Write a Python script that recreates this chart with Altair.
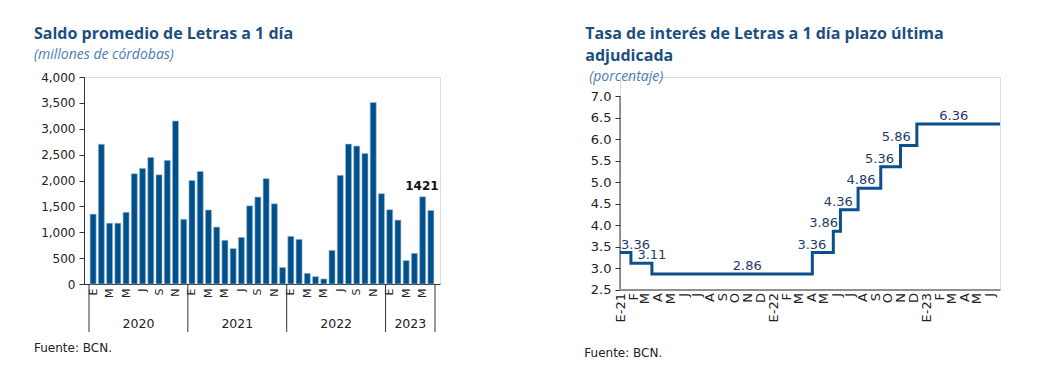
import altair as alt
import pandas as pd

# ---------------- Left chart data ----------------
years = ["2020", "2021", "2022", "2023"]
months_per_year = [12, 12, 12, 6]
month_letters = ["E", "F", "M", "A", "M", "J", "J", "A", "S", "O", "N", "D"]
saldo = [1350, 2700, 1175, 1175, 1385, 2130, 2235, 2445, 2110, 2390, 3150, 1250,
         2000, 2175, 1430, 1100, 845, 685, 900, 1510, 1680, 2035, 1550, 320,
         920, 862, 205, 142, 98, 650, 2100, 2703, 2665, 2522, 3505, 1745,
         1435, 1235, 452, 592, 1685, 1421]
highlight_label = "1421"

# ---------------- Right chart data ----------------
rate_dates = ["2021/01/01", "2021/01/27", "2021/03/18", "2022/04/04", "2022/05/24",
              "2022/06/10", "2022/07/22", "2022/09/14", "2022/10/31", "2022/12/09",
              "2023/06/25"]
rate_values = [3.36, 3.11, 2.86, 3.36, 3.86, 4.36, 4.86, 5.36, 5.86, 6.36, 6.36]
label_dates = ["2021/02/07", "2021/03/18", "2021/10/31", "2022/04/03", "2022/05/01",
               "2022/06/05", "2022/07/29", "2022/09/11", "2022/10/21", "2023/03/07"]
label_values = [3.36, 3.11, 2.86, 3.36, 3.86, 4.36, 4.86, 5.36, 5.86, 6.36]
y2_min, y2_max = 2.5, 7.0

BAR = "#00508c"
LINE = "#0b4f8c"
TXT = "#1f3a6e"
AX = "#333333"
TITLE = "#1b4f80"
SUB = "#4a7db5"
TICKFONT = "DejaVu Sans"
TFONT = "Open Sans"


def text_at(txt, x, y, size, color, weight="normal", style="normal", font=TFONT):
    return alt.Chart(pd.DataFrame({"t": [txt]})).mark_text(
        font=font, fontSize=size, fontWeight=weight, fontStyle=style, color=color,
        align="left", baseline="middle").encode(
        x=alt.value(x), y=alt.value(y), text="t:N")


# ---------- Left chart ----------
n = len(saldo)
bars_df = pd.DataFrame({"idx": [i + 0.5 for i in range(n)], "valor": saldo})
bounds = [0]
for m in months_per_year:
    bounds.append(bounds[-1] + m)
year_df = pd.DataFrame({
    "year": years,
    "center": [(bounds[i] + bounds[i + 1]) / 2 for i in range(len(years))],
})
sep_df = pd.DataFrame({"b": bounds})
month_ticks = [i + 0.5 for i in range(n) if i % 2 == 0]
letters_js = "[" + ",".join("'%s'" % m for m in month_letters) + "]"

W1, H1 = 356, 207
xq = alt.X("idx:Q", scale=alt.Scale(domain=[0, n], nice=False, zero=False),
           axis=alt.Axis(values=month_ticks, tickCount=200,
                         labelExpr=letters_js + "[floor(datum.value) % 12]",
                         labelAngle=270, ticks=False, grid=False, title=None,
                         labelFont=TICKFONT, labelFontSize=11, labelColor="#222",
                         domainColor=AX, labelPadding=4, labelOverlap=False))
yvals1 = list(range(0, 4001, 500))
bars = alt.Chart(bars_df).mark_bar(width=6, color=BAR, stroke="#9dbad6", strokeWidth=0.6).encode(
    x=xq,
    y=alt.Y("valor:Q", scale=alt.Scale(domain=[0, 4000]),
            axis=alt.Axis(values=yvals1, tickCount=200, format=",d", title=None, grid=False,
                          labelFont=TICKFONT, labelFontSize=12, labelColor="#222",
                          domainColor=AX, tickColor=AX, tickSize=5, labelPadding=4,
                          labelOverlap=False)),
)
last_df = bars_df.tail(1).assign(lbl=highlight_label)
last_lbl = alt.Chart(last_df).mark_text(font=TICKFONT, fontSize=12, fontWeight="bold",
                                         color="#111", dy=-20, dx=-9, baseline="alphabetic").encode(
    x="idx:Q", y="valor:Q", text="lbl:N")
seps = alt.Chart(sep_df).mark_rule(color=AX, strokeWidth=1).encode(
    x="b:Q", y=alt.value(H1), y2=alt.value(H1 + 48))
ylabels = alt.Chart(year_df).mark_text(font=TICKFONT, fontSize=12.5, color="#222", baseline="middle").encode(
    x="center:Q", y=alt.value(H1 + 40), text="year:N")

left = alt.layer(
    bars, last_lbl, seps, ylabels,
    text_at("Saldo promedio de Letras a 1 día", -50, -42.7, 16, TITLE, weight="bold"),
    text_at("(millones de córdobas)", -50, -21.7, 14, SUB, style="italic"),
    text_at("Fuente: BCN.", -50, 271.3, 12, "#222", font=TICKFONT),
).properties(width=W1, height=H1)

# ---------- Right chart ----------
W2, H2core, extra = 380, 193, 19.5
H2 = H2core + extra
top_dom = y2_max + (y2_max - y2_min) * extra / H2core
rate_df = pd.DataFrame({"fecha": rate_dates, "tasa": rate_values})
lab_df = pd.DataFrame({"fecha": label_dates, "tasa": label_values,
                       "txt": ["%.2f" % v for v in label_values]})
month_vals = []
for y in (2021, 2022, 2023):
    for m in range(1, 13):
        if y == 2023 and m > 6:
            break
        month_vals.append(alt.DateTime(year=y, month=m, date=1))

xt = alt.X("fecha:T", scale=alt.Scale(domain=[alt.DateTime(year=2021, month=1, date=1),
                                              alt.DateTime(year=2023, month=6, date=25)], nice=False),
           axis=alt.Axis(values=month_vals, tickCount=200,
                         labelExpr="month(datum.value) == 0 ? 'E-' + timeFormat(datum.value, '%y') : "
                                   + letters_js + "[month(datum.value)]",
                         labelAngle=270, ticks=False, grid=False, title=None,
                         labelFont=TICKFONT, labelFontSize=13, labelColor="#222",
                         domainColor=AX, labelPadding=3, labelOverlap=False))
yvals2 = [y2_min + 0.5 * i for i in range(10)]
yq = alt.Y("tasa:Q", scale=alt.Scale(domain=[y2_min, top_dom], zero=False, nice=False),
           axis=alt.Axis(values=yvals2, tickCount=200, format=".1f", title=None,
                         grid=False, domain=False,
                         labelFont=TICKFONT, labelFontSize=13, labelColor="#222",
                         tickColor=AX, tickSize=5, labelPadding=4, labelOverlap=False))
line = alt.Chart(rate_df).mark_line(interpolate="step-after", color=LINE, strokeWidth=3).encode(
    x=xt, y=yq)
yaxis_line = alt.Chart(pd.DataFrame({"lo": [y2_min], "hi": [y2_max]})).mark_rule(
    color=AX, strokeWidth=1).encode(x=alt.value(0), y="lo:Q", y2="hi:Q")
labs = alt.Chart(lab_df).mark_text(font=TICKFONT, fontSize=13, color=TXT, dy=-4,
                                   baseline="alphabetic").encode(
    x="fecha:T", y="tasa:Q", text="txt:N")

right = alt.layer(
    line, yaxis_line, labs,
    text_at("Tasa de interés de Letras a 1 día plazo última", -34.7, -42.7, 16, TITLE, weight="bold"),
    text_at("adjudicada", -34.7, -20.7, 16, TITLE, weight="bold"),
    text_at("(porcentaje)", -30.7, 0.3, 14, SUB, style="italic"),
    text_at("Fuente: BCN.", -35.7, 276.3, 12, "#222", font=TICKFONT),
).properties(width=W2, height=H2)

chart = alt.hconcat(left, right, spacing=142).properties(
    padding={"left": 25, "top": 17, "right": 5, "bottom": 5}
).configure_view(strokeWidth=0).configure(background="white")

chart.save("out.html", embed_options={"renderer": "svg", "actions": False})
